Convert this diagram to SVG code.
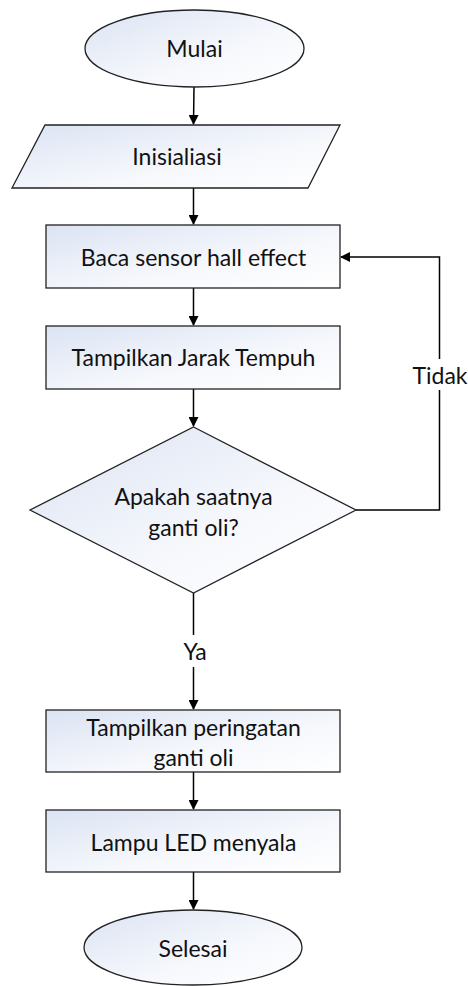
<svg xmlns="http://www.w3.org/2000/svg" width="468" height="986" viewBox="0 0 468 986">
<defs>
<linearGradient id="g" x1="0" y1="0" x2="1" y2="1">
<stop offset="0" stop-color="#dbe3f3"/>
<stop offset="0.6" stop-color="#f6f8fc"/>
<stop offset="1" stop-color="#ffffff"/>
</linearGradient>
<marker id="ah" markerWidth="10" markerHeight="10" refX="9" refY="5" orient="auto" markerUnits="userSpaceOnUse">
<path d="M0,0 L10,5 L0,10 Z" fill="#000"/>
</marker>
<style>
.s{fill:url(#g);stroke:#222;stroke-width:1.3}
.t{font-family:Lato,"Liberation Sans",sans-serif;font-size:23px;fill:#111;text-anchor:middle;dominant-baseline:central}
.c{fill:none;stroke:#000;stroke-width:1.5}
.l{font-family:Lato,"Liberation Sans",sans-serif;font-size:23px;fill:#111;text-anchor:middle;dominant-baseline:central}
</style>
</defs>
<g id="connectors">
<line class="c" x1="194" y1="87" x2="193.5" y2="124" marker-end="url(#ah)"/>
<line class="c" x1="193.5" y1="188" x2="193.5" y2="224" marker-end="url(#ah)"/>
<line class="c" x1="193.5" y1="288" x2="193.5" y2="325" marker-end="url(#ah)"/>
<line class="c" x1="193.5" y1="389" x2="193.5" y2="426" marker-end="url(#ah)"/>
<polyline class="c" points="356,510 439.5,510 439.5,390"/>
<polyline class="c" points="439.5,359 439.5,257 341,257" marker-end="url(#ah)"/>
<line class="c" x1="193.5" y1="593" x2="193.5" y2="635"/>
<line class="c" x1="193.5" y1="667" x2="193.5" y2="709" marker-end="url(#ah)"/>
<line class="c" x1="193.5" y1="772" x2="193.5" y2="809" marker-end="url(#ah)"/>
<line class="c" x1="193.5" y1="872" x2="193.5" y2="909" marker-end="url(#ah)"/>
<text class="l" x="440" y="375">Tidak</text>
<text class="l" x="195" y="651">Ya</text>
</g>
<g id="mulai">
<ellipse class="s" cx="194.5" cy="48.5" rx="109.5" ry="38.5"/>
<text class="t" x="194.5" y="48">Mulai</text>
</g>
<g id="inisialisasi">
<polygon class="s" points="45,125 340,125 308,188 12,188"/>
<text class="t" x="177" y="156">Inisialiasi</text>
</g>
<g id="baca">
<rect class="s" x="46" y="225" width="294" height="63"/>
<text class="t" x="193.5" y="257">Baca sensor hall effect</text>
</g>
<g id="jarak">
<rect class="s" x="46" y="326" width="294" height="63"/>
<text class="t" x="193.5" y="357">Tampilkan Jarak Tempuh</text>
</g>
<g id="keputusan">
<polygon class="s" points="193.5,427 356,510 193.5,593 30,510"/>
<text class="t" x="193.5" y="496">Apakah saatnya</text>
<text class="t" x="193.5" y="527">ganti oli?</text>
</g>
<g id="peringatan">
<rect class="s" x="46" y="710" width="294" height="62"/>
<text class="t" x="193.5" y="727">Tampilkan peringatan</text>
<text class="t" x="193.5" y="757">ganti oli</text>
</g>
<g id="lampu">
<rect class="s" x="46" y="810" width="294" height="62"/>
<text class="t" x="193.5" y="842">Lampu LED menyala</text>
</g>
<g id="selesai">
<ellipse class="s" cx="193" cy="947.5" rx="109" ry="37.5"/>
<text class="t" x="193" y="948">Selesai</text>
</g>
</svg>
